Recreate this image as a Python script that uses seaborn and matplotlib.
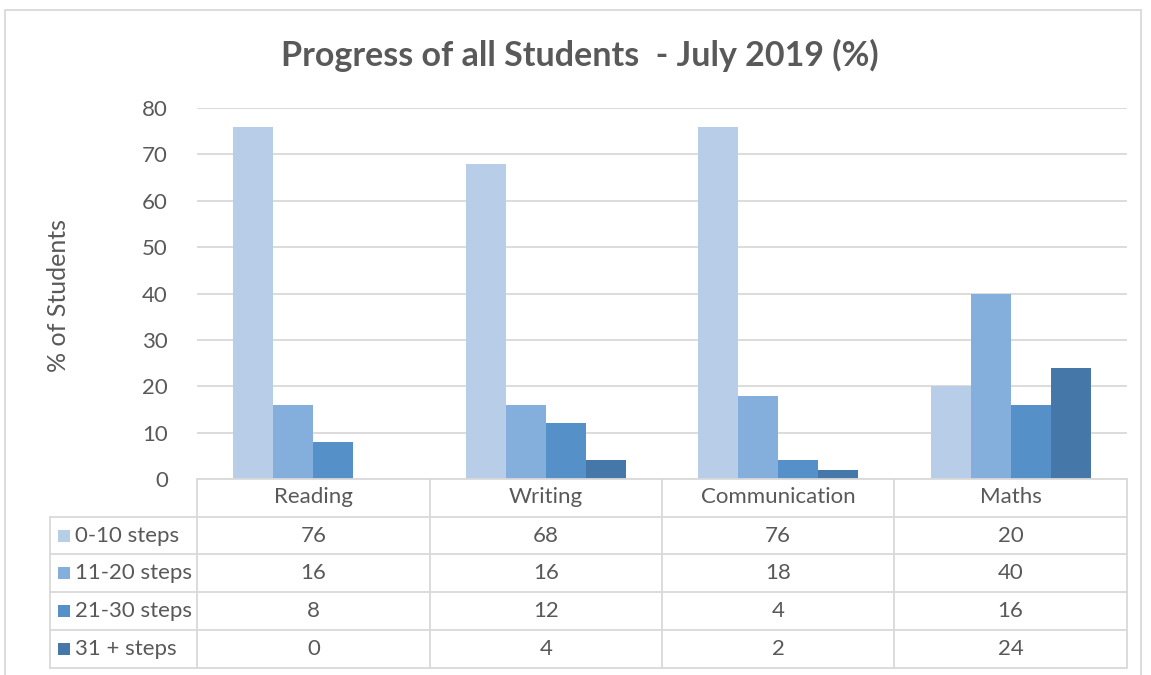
import numpy as np
import pandas as pd
import matplotlib.pyplot as plt
import seaborn as sns
from matplotlib.patches import Rectangle

# Data
subjects = ['Reading', 'Writing', 'Communication', 'Maths']
bands = ['0-10 steps', '11-20 steps', '21-30 steps', '31 + steps']
steps_0_10 = [76, 68, 76, 20]
steps_11_20 = [16, 16, 18, 40]
steps_21_30 = [8, 12, 4, 16]
steps_31_plus = [0, 4, 2, 24]
colors = ['#B7CDE8', '#84AEDB', '#5591C8', '#4577A8']

df = pd.DataFrame({'Subject': subjects * 4,
                   'Band': np.repeat(bands, 4),
                   'Value': steps_0_10 + steps_11_20 + steps_21_30 + steps_31_plus})

sns.set_style('white')
plt.rcParams['font.family'] = ['Lato', 'DejaVu Sans']
text_col = '#595959'
grid_col = '#D9D9D9'
fs = 16

W, H = 1151, 675
fig = plt.figure(figsize=(W / 100, H / 100), dpi=100)


def fx(px):
    return px / W


def fy(py):
    return 1 - py / H


ax = fig.add_axes([fx(197), fy(479), fx(1127) - fx(197), fy(108) - fy(479)])
sns.barplot(data=df, x='Subject', y='Value', hue='Band', palette=colors,
            width=0.69, ax=ax, legend=False, linewidth=0, saturation=1)
ax.set_ylim(0, 80)
ax.set_xlim(-0.5, 3.5)
ax.set_yticks(range(0, 81, 10))
ax.yaxis.grid(True, color=grid_col, linewidth=1.3)
ax.set_axisbelow(True)
for s in ax.spines.values():
    s.set_visible(False)
ax.set_xticks([])
ax.set_xlabel('')
ax.set_ylabel('')
ax.tick_params(axis='y', length=0, pad=21, labelsize=fs, labelcolor=text_col)

fig.text(fx(58), fy(295), '% of Students', rotation=90, ha='center', va='center',
         fontsize=18, color=text_col)
fig.text(fx(580), fy(55), 'Progress of all Students  - July 2019 (%)', ha='center',
         va='center', fontsize=24.5, fontweight='bold', color=text_col)

# outer chart border
fig.patches.append(Rectangle((fx(5), fy(690)), fx(1141) - fx(5), fy(10) - fy(690),
                             transform=fig.transFigure, fill=False,
                             edgecolor=grid_col, linewidth=1.3))

# data table
line_kw = dict(color=grid_col, linewidth=1.3, transform=fig.transFigure)
col_x = [197, 430, 662, 894, 1127]
row_y = [479, 517, 554, 592, 630, 668]
fig.add_artist(plt.Line2D([fx(197), fx(1127)], [fy(479), fy(479)], **line_kw))
for y in row_y[1:]:
    fig.add_artist(plt.Line2D([fx(50), fx(1127)], [fy(y), fy(y)], **line_kw))
fig.add_artist(plt.Line2D([fx(50), fx(50)], [fy(517), fy(668)], **line_kw))
for x in col_x:
    fig.add_artist(plt.Line2D([fx(x), fx(x)], [fy(479), fy(668)], **line_kw))

for i, name in enumerate(subjects):
    cx = (col_x[i] + col_x[i + 1]) / 2
    fig.text(fx(cx), fy(497), name, ha='center', va='center', fontsize=fs, color=text_col)

series = [steps_0_10, steps_11_20, steps_21_30, steps_31_plus]
for r, (band, vals) in enumerate(zip(bands, series)):
    cy = (row_y[r + 1] + row_y[r + 2]) / 2
    fig.patches.append(Rectangle((fx(58), fy(cy + 6)), fx(12), fy(cy - 6) - fy(cy + 6),
                                 transform=fig.transFigure, facecolor=colors[r],
                                 edgecolor='none'))
    fig.text(fx(75), fy(cy), band, ha='left', va='center', fontsize=fs, color=text_col)
    for i, v in enumerate(vals):
        cx = (col_x[i] + col_x[i + 1]) / 2
        fig.text(fx(cx), fy(cy), str(v), ha='center', va='center', fontsize=fs,
                 color=text_col)

fig.savefig('out.png', dpi=100)
